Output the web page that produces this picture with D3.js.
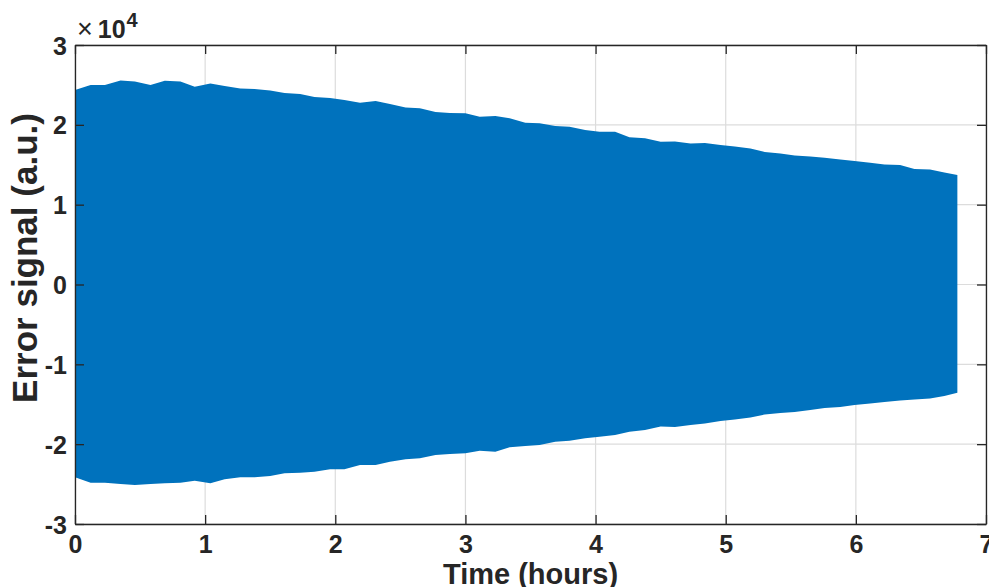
<!DOCTYPE html>
<html><head><meta charset="utf-8">
<script src="https://cdn.jsdelivr.net/npm/d3@7"></script>
<style>html,body{margin:0;padding:0;background:#fff;}svg{display:block;}</style>
</head><body>
<script>
// Envelope of the error signal (time in hours, values in a.u.)
const timeHours = [0,0.12,0.23,0.35,0.46,0.58,0.69,0.81,0.92,1.04,1.15,1.27,1.38,1.50,1.61,1.73,1.84,1.96,2.07,2.19,2.31,2.42,2.54,2.65,2.77,2.88,3.00,3.11,3.23,3.34,3.46,3.57,3.69,3.80,3.92,4.03,4.15,4.26,4.38,4.50,4.61,4.73,4.84,4.96,5.07,5.19,5.30,5.42,5.53,5.65,5.76,5.88,5.99,6.11,6.22,6.34,6.45,6.57,6.68,6.78];
const upperEnv = [24360,24990,24990,25550,25430,24990,25530,25430,24780,25180,24870,24550,24490,24300,23990,23870,23490,23360,23110,22770,22990,22610,22170,22070,21610,21480,21450,21020,21110,20820,20270,20190,19850,19770,19350,19140,19140,18440,18310,17890,17910,17660,17720,17470,17290,17040,16600,16410,16160,16030,15870,15660,15470,15240,15030,14970,14470,14410,14030,13720];
const lowerEnv = [-24150,-24830,-24830,-24990,-25120,-24990,-24900,-24830,-24580,-24900,-24400,-24150,-24150,-23990,-23650,-23580,-23450,-23150,-23150,-22610,-22610,-22200,-21900,-21770,-21360,-21230,-21150,-20820,-20940,-20390,-20230,-20110,-19690,-19570,-19270,-19070,-18850,-18440,-18230,-17790,-17850,-17600,-17410,-17100,-16910,-16660,-16280,-16100,-15970,-15720,-15470,-15350,-15090,-14910,-14720,-14530,-14410,-14280,-13970,-13550];
const xTicks = [0,1,2,3,4,5,6,7];
const yTicks = [-3,-2,-1,0,1,2,3]; // in units of 1e4
const xLabel = "Time (hours)";
const yLabel = "Error signal (a.u.)";

const W = 989, H = 587;
const m = {left:75, right:3, top:45, bottom:63};
const svg = d3.select("body").append("svg").attr("width", W).attr("height", H)
  .style("font-family", "'Liberation Sans', Arial, Helvetica, sans-serif");

const x = d3.scaleLinear().domain([0,7]).range([m.left, W - m.right]);
const y = d3.scaleLinear().domain([-30000,30000]).range([H - m.bottom, m.top]);

// grid
const grid = svg.append("g").attr("stroke", "#dcdcdc").attr("stroke-width", 1.2);
xTicks.forEach(t => grid.append("line").attr("x1", x(t)).attr("x2", x(t)).attr("y1", y.range()[1]).attr("y2", y.range()[0]));
yTicks.forEach(t => grid.append("line").attr("y1", y(t*1e4)).attr("y2", y(t*1e4)).attr("x1", x.range()[0]).attr("x2", x.range()[1]));

// data band
const data = timeHours.map((t,i) => ({t, hi: upperEnv[i], lo: lowerEnv[i]}));
svg.append("path").datum(data)
  .attr("fill", "#0072BD")
  .attr("d", d3.area().x(d => x(d.t)).y0(d => y(d.lo)).y1(d => y(d.hi)));

// axes (box with inward ticks)
const axCol = "#262626";
const tl = 9;
const fmt = d => String(d);
const ax = svg.append("g");
const gBottom = ax.append("g").attr("transform", `translate(0,${y.range()[0]})`)
  .call(d3.axisBottom(x).tickValues(xTicks).tickSizeInner(-tl).tickSizeOuter(0).tickPadding(11).tickFormat(fmt));
const gTop = ax.append("g").attr("transform", `translate(0,${y.range()[1]})`)
  .call(d3.axisTop(x).tickValues(xTicks).tickSizeInner(-tl).tickSizeOuter(0).tickFormat(""));
const yS = d3.scaleLinear().domain([-3,3]).range(y.range());
const gLeft = ax.append("g").attr("transform", `translate(${x.range()[0]},0)`)
  .call(d3.axisLeft(yS).tickValues(yTicks).tickSizeInner(-tl).tickSizeOuter(0).tickPadding(8).tickFormat(fmt));
const gRight = ax.append("g").attr("transform", `translate(${x.range()[1]},0)`)
  .call(d3.axisRight(yS).tickValues(yTicks).tickSizeInner(-tl).tickSizeOuter(0).tickFormat(""));
[gBottom, gTop, gLeft, gRight].forEach(g => {
  g.select(".domain").attr("stroke", axCol).attr("stroke-width", 1.3);
  g.selectAll(".tick line").attr("stroke", axCol).attr("stroke-width", 1.3);
  g.selectAll("text").attr("fill", axCol).attr("font-size", 25).attr("font-weight", "bold")
    .attr("font-family", "'Liberation Sans', Arial, sans-serif");
});
gLeft.selectAll("text").attr("dy", "0.36em");

// exponent
const ex = svg.append("text").attr("x", 77).attr("y", 38).attr("fill", axCol)
  .attr("font-family", "'Liberation Sans', Arial, sans-serif");
ex.append("tspan").attr("font-size", 27).text("\u00d7");
ex.append("tspan").attr("font-size", 25).attr("font-weight", "bold").attr("dx", 5).text("10");
ex.append("tspan").attr("font-size", 20).attr("font-weight", "bold").attr("dx", 1).attr("dy", -11).text("4");

// axis labels
svg.append("text").attr("x", (x.range()[0] + x.range()[1]) / 2).attr("y", 584)
  .attr("text-anchor", "middle").attr("font-size", 29).attr("font-weight", "bold").attr("fill", axCol)
  .text(xLabel);
svg.append("text").attr("transform", `translate(37,258) rotate(-90)`)
  .attr("text-anchor", "middle").attr("font-size", 35).attr("font-weight", "bold").attr("fill", axCol)
  .text(yLabel);
</script>
</body></html>
